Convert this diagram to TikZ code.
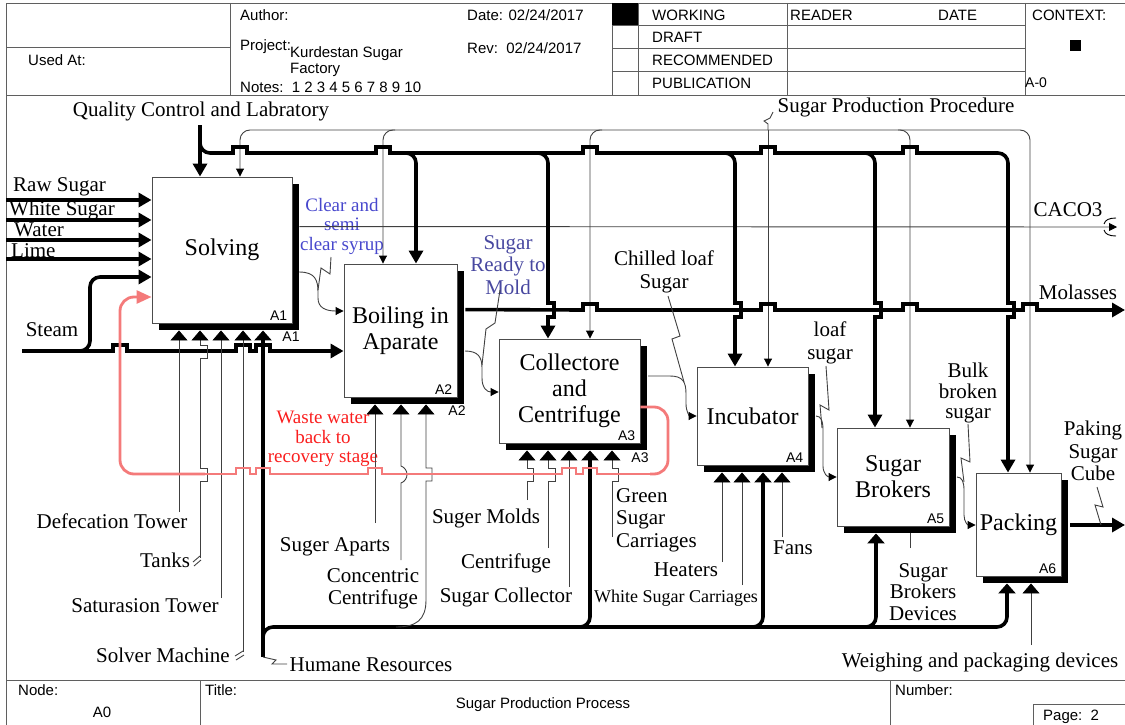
\documentclass[tikz,border=0pt]{standalone}
\usepackage{fontspec}
\setmainfont{Liberation Serif}
\newfontfamily\HDsans{Liberation Sans}
\usetikzlibrary{arrows.meta,calc,backgrounds}
\definecolor{redl}{RGB}{244,122,122}
\definecolor{wred}{RGB}{250,30,30}
\definecolor{blA}{RGB}{72,72,205}
\definecolor{blB}{RGB}{72,72,160}
\definecolor{lg}{RGB}{95,95,95}
\newcommand\HopH[2]{-- ({#1-7},#2) -- ({#1-7},{#2-6}) -- ({#1+7},{#2-6}) -- ({#1+7},#2)}
\newcommand\HopV[2]{-- (#1,{#2-7}) -- ({#1+6},{#2-7}) -- ({#1+6},{#2+7}) -- (#1,{#2+7})}
\newcommand\BXfont{\fontsize{24}{26}\selectfont}
\newcommand\LBfont{\fontsize{21}{22.5}\selectfont}
\newcommand\BLfont{\fontsize{19}{19.5}\selectfont}
\newcommand\HDfont{\HDsans\fontsize{15}{17}\selectfont}
\newcommand\IDfont{\HDsans\fontsize{14}{16}\selectfont}
\tikzset{
  thk/.style={line width=3.6pt,black},
  thn/.style={line width=0.9pt,black!75},
  TA/.style={-{Triangle[length=13pt,width=14pt,color=black,fill=black]}},
  tA/.style={-{Triangle[length=8pt,width=8pt,color=black,fill=black]}},
  MA/.style={-{Triangle[length=10pt,width=17pt,color=black,fill=black]}},
  rc/.style={rounded corners=10pt},
  redln/.style={line width=2.8pt,redl},
  box/.style={draw=black!70,line width=0.9pt,fill=white,inner sep=0pt,align=center,font=\BXfont},
  lbl/.style={inner sep=0pt,align=center,font=\LBfont},
  hd/.style={inner sep=0pt,anchor=west,font=\HDfont},
  idf/.style={inner sep=0pt,font=\IDfont},
  frame/.style={lg,line width=0.9pt},
}
\begin{document}
\begin{tikzpicture}[x=1pt,y=-1pt]
\useasboundingbox (0,0) rectangle (1125,725);
% ---------- frame, header, footer ----------
\draw[frame] (6,725) -- (6,3) -- (1125,3);
\draw[frame] (6,95) -- (1125,95);
\draw[frame] (6,680) -- (1125,680);
\draw[frame] (6,47) -- (230,47);
\draw[frame] (230,3) -- (230,95);
\draw[frame] (612,3) -- (612,95);
\draw[frame] (638,3) -- (638,95);
\draw[frame] (787,3) -- (787,95);
\draw[frame] (1025,3) -- (1025,95);
\draw[frame] (612,25) -- (1025,25);
\draw[frame] (612,48) -- (1025,48);
\draw[frame] (612,71) -- (1025,71);
\fill (612,3) rectangle (638,25);
\fill (1070,40) rectangle (1081,51);
\node[hd] (hUsed) at (28,60) {Used At:};
\node[hd] (hAuth) at (240,15) {Author:};
\node[hd] (hProj) at (240,47) {Project:};
\node[hd] (hKurd) at (290,54) {Kurdestan Sugar};
\node[hd] (hFact) at (290,70) {Factory};
\node[hd] (hNote) at (240,87) {Notes:\ \ 1 2 3 4 5 6 7 8 9 10};
\node[hd] (hDate) at (467,15) {Date: 02/24/2017};
\node[hd] (hRev) at (467,48) {Rev:\ \ 02/24/2017};
\node[hd] (hWork) at (652,15) {WORKING};
\node[hd] (hDraft) at (652,37) {DRAFT};
\node[hd] (hRec) at (652,60) {RECOMMENDED};
\node[hd] (hPub) at (652,83) {PUBLICATION};
\node[hd] (hRead) at (790,15) {READER};
\node[hd] (hDt) at (938,15) {DATE};
\node[hd] (hCtx) at (1032,15) {CONTEXT:};
\node[hd,font=\IDfont] (hA0) at (1025,83) {A-0};
\draw[frame] (200,680) -- (200,725);
\draw[frame] (890,680) -- (890,725);
\draw[frame] (1033,725) -- (1033,704) -- (1125,704);
\node[hd] (fNode) at (18,690) {Node:};
\node[hd,anchor=center] (fA0) at (102,712) {A0};
\node[hd] (fTitle) at (205,690) {Title:};
\node[hd,anchor=center] (fSPP) at (543,705) {Sugar Production Process};
\node[hd] (fNum) at (895,690) {Number:};
\node[hd] (fPage) at (1043,717) {Page:\ \ 2};
% ---------- boxes ----------
\node[box,minimum width=140pt,minimum height=146pt] (A1) at (222,250) {Solving};
\node[box,minimum width=113pt,minimum height=133pt] (A2) at (400.5,330.5) {Boiling in\\Aparate};
\node[box,minimum width=141pt,minimum height=104pt] (A3) at (569.5,391) {Collectore\\and\\Centrifuge};
\node[box,minimum width=111pt,minimum height=98pt] (A4) at (752.5,416) {Incubator};
\node[box,minimum width=112pt,minimum height=98pt] (A5) at (893,477) {Sugar\\Brokers};
\node[box,minimum width=85pt,minimum height=103pt] (A6) at (1018.5,524.5) {Packing};
\begin{scope}[on background layer]
\foreach \b in {A1,A2,A3,A4,A5,A6}
  \fill ($(\b.south west)+(7,7)$) rectangle ($(\b.north east)+(7,7)$);
\end{scope}
\foreach \b/\t in {A1/A1,A2/A2,A3/A3,A4/A4,A5/A5,A6/A6}
  \node[idf,anchor=south east] (\b i) at ($(\b.south east)+(-5,-3)$) {\t};
\node[idf] (A1o) at (291,337) {A1};
\node[idf] (A2o) at (457,411) {A2};
\node[idf] (A3o) at (640,458) {A3};
\foreach \b in {1,...,6}
  \coordinate (m\b) at ($(A\b.south)+(0,7)$);
% ---------- labels ----------
\node[lbl] (lQC) at (201,111) {Quality Control and Labratory};
\node[lbl] (lSPP) at (896,107) {Sugar Production Procedure};
\node[lbl,anchor=west] (lRaw) at (13,187) {Raw Sugar};
\node[lbl,anchor=west] (lWhite) at (9,210) {White Sugar};
\node[lbl,anchor=west] (lWater) at (14,230) {Water};
\node[lbl,anchor=west] (lLime) at (11,251) {Lime};
\node[lbl] (lSteam) at (52,330) {Steam};
\node[lbl,font=\BLfont,text=blA] (lClear) at (342,226) {Clear and\\semi\\clear syrup};
\node[lbl,text=blB] (lReady) at (508,265) {Sugar\\Ready to\\Mold};
\node[lbl] (lChill) at (664,272) {Chilled loaf\\Sugar};
\node[lbl] (lLoaf) at (830,343) {loaf\\sugar};
\node[lbl,font=\fontsize{21}{20.5}\selectfont] (lBulk) at (968,393) {Bulk\\broken\\sugar};
\node[lbl] (lPak) at (1093,451) {Paking\\Sugar\\Cube};
\node[lbl] (lCACO) at (1068,210) {CACO3};
\node[lbl] (lMol) at (1078,292) {Molasses};
\node[lbl,font=\BLfont,text=wred] (lWaste) at (323,439) {Waste water\\back to\\recovery stage};
\node[lbl] (lDef) at (112,521) {Defecation Tower};
\node[lbl] (lTank) at (165,560) {Tanks};
\node[lbl] (lSat) at (145,606) {Saturasion Tower};
\node[lbl] (lSolv) at (163,655) {Solver Machine};
\node[lbl] (lHR) at (371,665) {Humane Resources};
\node[lbl] (lSApar) at (335,547) {Suger Aparts};
\node[lbl] (lConc) at (373,589) {Concentric\\Centrifuge};
\node[lbl] (lMolds) at (486,518) {Suger Molds};
\node[lbl] (lCent) at (506,563) {Centrifuge};
\node[lbl] (lColl) at (506,597) {Sugar Collector};
\node[lbl,anchor=west,align=left] (lGreen) at (616,520) {Green\\Sugar\\Carriages};
\node[lbl] (lHeat) at (686,570) {Heaters};
\node[lbl,font=\fontsize{18}{20}\selectfont] (lWSC) at (676,598) {White Sugar Carriages};
\node[lbl] (lFans) at (793,548) {Fans};
\node[lbl,font=\fontsize{21}{21.5}\selectfont] (lSBD) at (923,592) {Sugar\\Brokers\\Devices};
\node[lbl] (lWeigh) at (980,662) {Weighing and packaging devices};
% ---------- thin control: Sugar Production Procedure ----------
\draw[thn,rc,{Triangle[length=8pt,width=8pt,color=black,fill=black]}-{Triangle[length=8pt,width=8pt,color=black,fill=black]}]
  (240,0 |- A1.north) -- (240,130) -- (1030,130) -- (1030,0 |- A6.north);
\draw[thn,rc,tA] (395,130) -- (383,130) -- (383,0 |- A2.north);
\draw[thn,rc,tA] (602,130) -- (590,130) -- (590,0 |- A3.north);
\draw[thn,tA] (768,130) -- (768,0 |- A4.north);
\draw[thn,rc,tA] (898,130) -- (910,130) -- (910,0 |- A5.north);
\draw[thn] (768,130) -- (768,124) -- (764,121) -- (770,118) -- (773,112);
% ---------- CACO3 ----------
\coordinate (cacoEnd) at (1117,227);
\draw[thn,tA] ($(A1.north east)+(7,50)$) -- (cacoEnd);
\draw[thn,black] (1104,224) .. controls (1105,220) and (1109,218) .. (1116,218);
\draw[thn,black] (1104,230) .. controls (1105,234) and (1109,236) .. (1116,236);
% ---------- thick control: Quality Control ----------
\draw[thk,TA] (200,125) -- (200,0 |- A1.north);
\draw[thk,rc] (200,138) -- (200,153) -- (216,153);
\draw[thk] (212,153) \HopH{240}{153} \HopH{383}{153} \HopH{590}{153} \HopH{768}{153} \HopH{910}{153} -- (996,153);
\draw[thk,rc,TA] (400,153) -- (416,153) -- (416,0 |- A2.north);
\foreach \x/\s/\b in {548/530/A3,735/718/A4,875/858/A5,1008/990/A6}{
  \draw[thk,rc] (\s,153) -- (\x,153) -- (\x,270);
  \draw[thk] (\x,265) \HopV{\x}{310} -- (\x,325);
  \draw[thk,TA] (\x,320) -- (\x,0 |- \b.north);
}
% ---------- Molasses ----------
\draw[thk,TA] ($(A2.north east)+(8,46)$) \HopH{590}{310} \HopH{768}{310} \HopH{910}{310} \HopH{1030}{310} -- (1125,310);
% ---------- inputs ----------
\foreach \y in {200,220,240,259}
  \draw[thk,TA] (6,\y) -- (A1.west |- 0,\y);
\draw[thk] (22,351) \HopH{120}{351} \HopH{243}{351} \HopH{263}{351} -- (330,351);
\draw[thk,TA] (320,351) -- (A2.west |- 0,351);
\draw[thk,rc,TA] (75,351) -- (90,351) -- (90,277) -- (A1.west |- 0,277);
% ---------- outputs between boxes ----------
\draw[thn,tA] (299,272) .. controls (315,272) and (318,280) .. (318,292) -- (318,298) .. controls (318,308) and (326,311) .. (A2.west |- 0,311);
\draw[thn,tA] (465,351) .. controls (478,351) and (482,357) .. (482,368) -- (482,378) .. controls (482,388) and (487,392) .. (A3.west |- 0,392);
\draw[thn,tA] (648,376) -- (670,376) .. controls (683,376) and (686,382) .. (686,394) -- (686,404) .. controls (686,412) and (690,416) .. (A4.west |- 0,416);
\draw[thn,tA] (816,416) .. controls (821,416) and (823,421) .. (823,430) -- (823,466) .. controls (823,474) and (828,477) .. (A5.west |- 0,477);
\draw[thn,tA] (957,477) .. controls (962,477) and (964,482) .. (964,490) -- (964,515) .. controls (964,522) and (968,525) .. (A6.west |- 0,525);
\draw[thk,TA] (1070,525) -- (1125,525);
% squiggle pointers
\draw[thn] (331,257) -- (330,274) -- (321,268) -- (318,290);
\draw[thn] (500,290) -- (495,323) -- (486,329) -- (482,365);
\draw[thn] (668,296) -- (680,336) -- (672,339) -- (684,382);
\draw[thn] (826,366) -- (829,410) -- (820,405) -- (822,428);
\draw[thn] (968,424) -- (970,462) -- (961,458) -- (964,482);
\draw[thn] (1097,487) -- (1103,507) -- (1095,505) -- (1101,525);
% ---------- mechanisms ----------
\draw[thn,MA] (179,512) -- (179,0 |- m1);
\draw[thn,MA] (200,558) -- (200,481) -- (207,481) -- (207,468) -- (200,468) -- (200,358) -- (207,358) -- (207,345) -- (200,345) -- (200,0 |- m1);
\draw[thn] (200,556) -- (193,562) (201,560) -- (194,566);
\draw[thn,MA] (221,598) -- (221,0 |- m1);
\draw[thn,MA] (243,652) -- (243,0 |- m1);
\draw[thn] (243,651) -- (235,656) (244,655) -- (236,660);
\draw[thk,MA] (263,657) -- (263,0 |- m1);
\draw[thn] (263,657) -- (276,660) -- (272,664) -- (287,664);
\draw[thk,rc,MA] (263,645) -- (263,627) -- (1007,627) -- (1007,0 |- m6);
\draw[thk,rc,MA] (575,627) -- (590,627) -- (590,0 |- m3);
\draw[thk,rc,MA] (748,627) -- (763,627) -- (763,0 |- m4);
\draw[thk,rc,MA] (861,627) -- (876,627) -- (876,0 |- m5);
\draw[thn,MA] (375,523) -- (375,0 |- m2);
\draw[thn,MA] (401,560) -- (401,483) .. controls (409,480) and (409,469) .. (401,466) -- (401,0 |- m2);
\draw[thn,MA] (396,627) .. controls (416,627) and (426,620) .. (426,600) -- (426,481) -- (432,481) -- (432,468) -- (426,468) -- (426,0 |- m2);
\draw[thn,MA] (527,500) -- (527,481) -- (533,481) -- (533,468) -- (527,468) -- (527,0 |- m3);
\draw[thn,MA] (548,548) -- (548,481) -- (555,481) -- (555,468) -- (548,468) -- (548,0 |- m3);
\draw[thn,MA] (569,587) -- (569,0 |- m3);
\draw[thn,MA] (612,537) -- (612,481) -- (618,481) -- (618,468) -- (612,468) -- (612,0 |- m3);
\draw[thn,MA] (722,562) -- (722,0 |- m4);
\draw[thn,MA] (742,585) -- (742,0 |- m4);
\draw[thn,MA] (782,537) -- (782,0 |- m4);
\draw[thn] (910,548) -- (910,0 |- m5);
\draw[thn,MA] (1031,645) -- (1031,0 |- m6);
% ---------- red waste water loop ----------
\draw[redln,rounded corners=14pt,-{Triangle[length=15pt,width=13pt]}] (205,474) -- (120,474) -- (120,297) -- (A1.west |- 0,297);
\draw[redln] (195,474) \HopH{243}{474} \HopH{263}{474} \HopH{375}{474} \HopH{569}{474} \HopH{590}{474} -- (655,474);
\draw[redln,rounded corners=14pt] (650,474) -- (668,474) -- (668,407) -- (A3.east |- 0,407);
\end{tikzpicture}
\end{document}
